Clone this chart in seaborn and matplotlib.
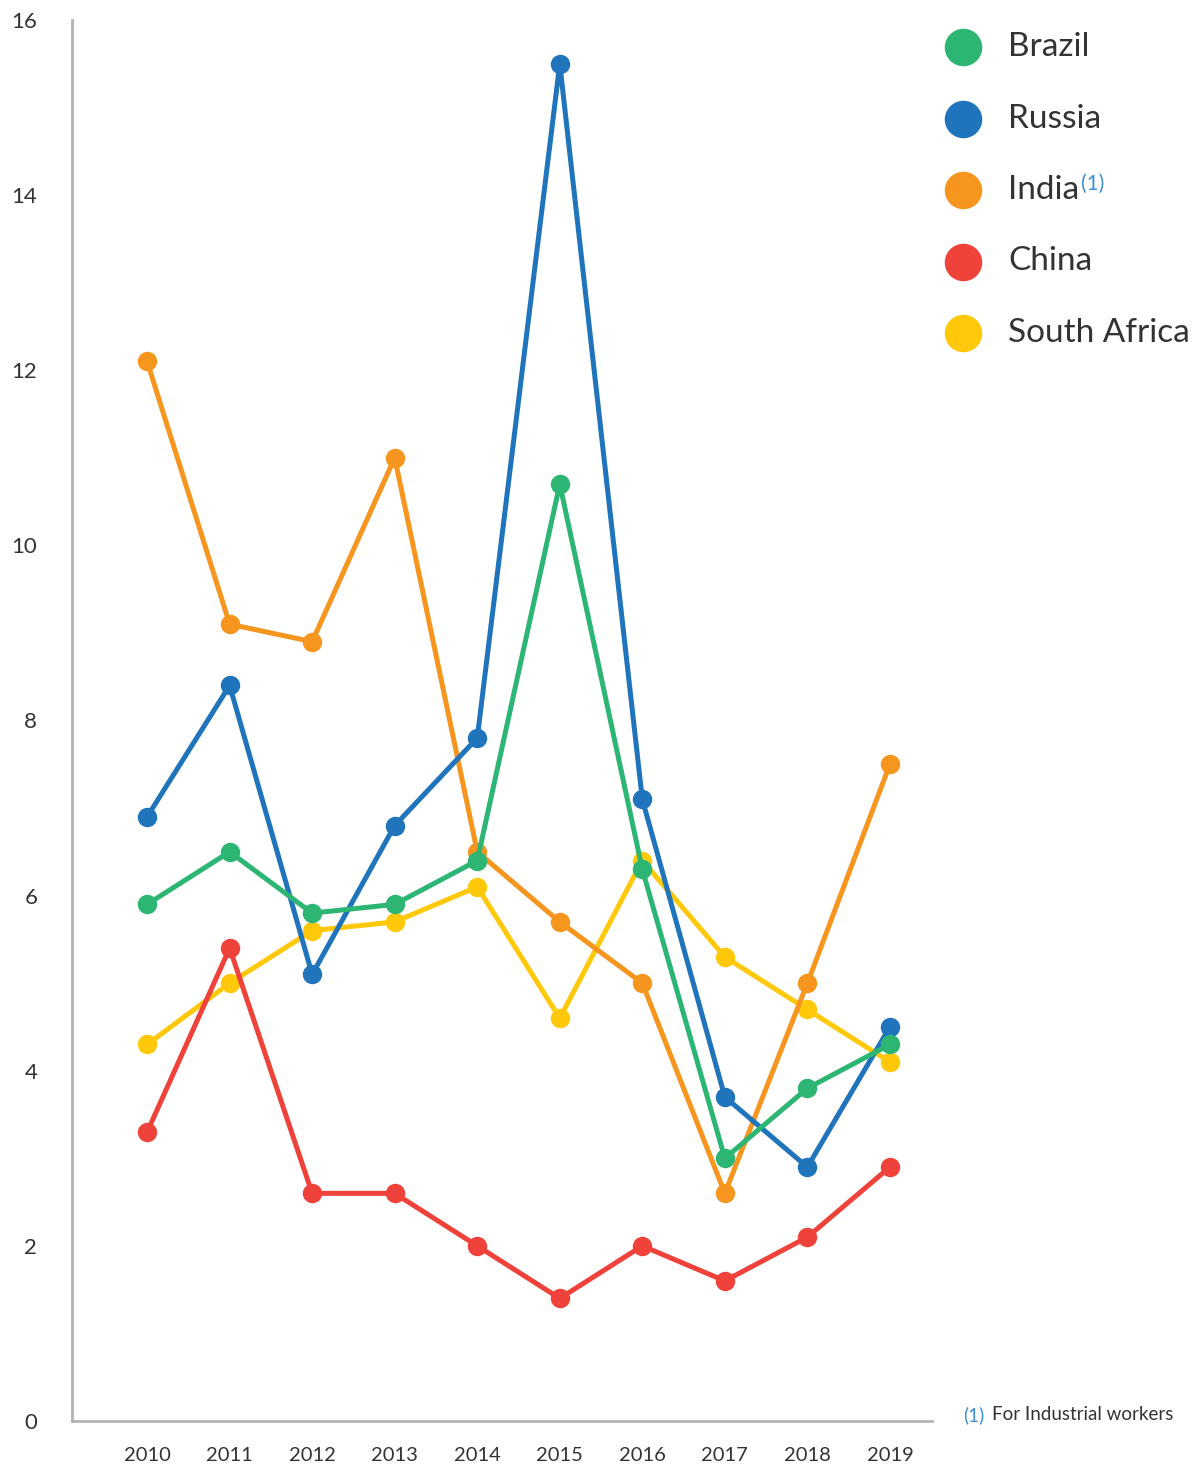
import pandas as pd
import matplotlib
matplotlib.use("Agg")
import matplotlib.pyplot as plt
from matplotlib.lines import Line2D
import seaborn as sns

# values
years = [2010, 2011, 2012, 2013, 2014, 2015, 2016, 2017, 2018, 2019]
brazil = [5.9, 6.5, 5.8, 5.9, 6.4, 10.7, 6.3, 3.0, 3.8, 4.3]
russia = [6.9, 8.4, 5.1, 6.8, 7.8, 15.5, 7.1, 3.7, 2.9, 4.5]
india = [12.1, 9.1, 8.9, 11.0, 6.5, 5.7, 5.0, 2.6, 5.0, 7.5]
china = [3.3, 5.4, 2.6, 2.6, 2.0, 1.4, 2.0, 1.6, 2.1, 2.9]
south_africa = [4.3, 5.0, 5.6, 5.7, 6.1, 4.6, 6.4, 5.3, 4.7, 4.1]

countries = ["Brazil", "Russia", "India", "China", "South Africa"]
colors = ["#2db574", "#1f74bb", "#f6961f", "#ee423a", "#ffc90a"]
y_ticks = [0, 2, 4, 6, 8, 10, 12, 14, 16]

series = dict(zip(countries, [brazil, russia, india, china, south_africa]))
df = pd.concat([pd.DataFrame({"year": years, "value": v, "country": k})
                for k, v in series.items()], ignore_index=True)
palette = dict(zip(countries, colors))

sns.set_style("white")
plt.rcParams['font.family'] = ['Lato', 'DejaVu Sans']

fig = plt.figure(figsize=(11.97, 14.66), dpi=100)
ax = fig.add_axes([72 / 1197, 1 - 1421 / 1466, (932 - 72) / 1197, (1421 - 20) / 1466])

# draw order: Brazil ends up on top
draw_order = ["South Africa", "China", "India", "Russia", "Brazil"]
sns.lineplot(data=df, x="year", y="value", hue="country", hue_order=draw_order,
             palette=palette, marker="o", markersize=14, markeredgewidth=0,
             linewidth=3.6, legend=False, ax=ax)

ax.set_xlim(2009.09, 2019.51)
ax.set_ylim(0, 16)
ax.set_xticks(years)
ax.set_yticks(y_ticks)
ax.set_xlabel("")
ax.set_ylabel("")
ax.tick_params(axis="x", length=12, width=1.5, color="#b3b3b3", labelsize=14.5,
               labelcolor="#333333", pad=7)
ax.tick_params(axis="y", length=15, width=1.5, color="#b3b3b3", labelsize=16,
               labelcolor="#333333", pad=10)
for s in ["top", "right"]:
    ax.spines[s].set_visible(False)
for s in ["left", "bottom"]:
    ax.spines[s].set_color("#b3b3b3")
    ax.spines[s].set_linewidth(2)

# legend drawn by hand
for i, (name, col) in enumerate(zip(countries, colors)):
    yy = 1 - (47 + i * 71.5) / 1466
    fig.add_artist(Line2D([963 / 1197], [yy], marker="o", markersize=27,
                          markeredgewidth=0, color=col, transform=fig.transFigure))
    t = fig.text(1008 / 1197, yy, name, fontsize=24, color="#333333",
                 va="center", ha="left")
    if name == "India":
        fig.canvas.draw()
        bb = t.get_window_extent()
        fig.text((bb.x1 + 2) / 1197, yy + 6 / 1466, "(1)", fontsize=15,
                 color="#3a8fd4", va="center", ha="left")

fig.text(963 / 1197, 1 - 1415 / 1466, "(1)", fontsize=13.5, color="#3a8fd4",
         va="center", ha="left")
fig.text(992 / 1197, 1 - 1415 / 1466, "For Industrial workers", fontsize=13.5,
         color="#333333", va="center", ha="left")

fig.savefig("out.png", dpi=100)
